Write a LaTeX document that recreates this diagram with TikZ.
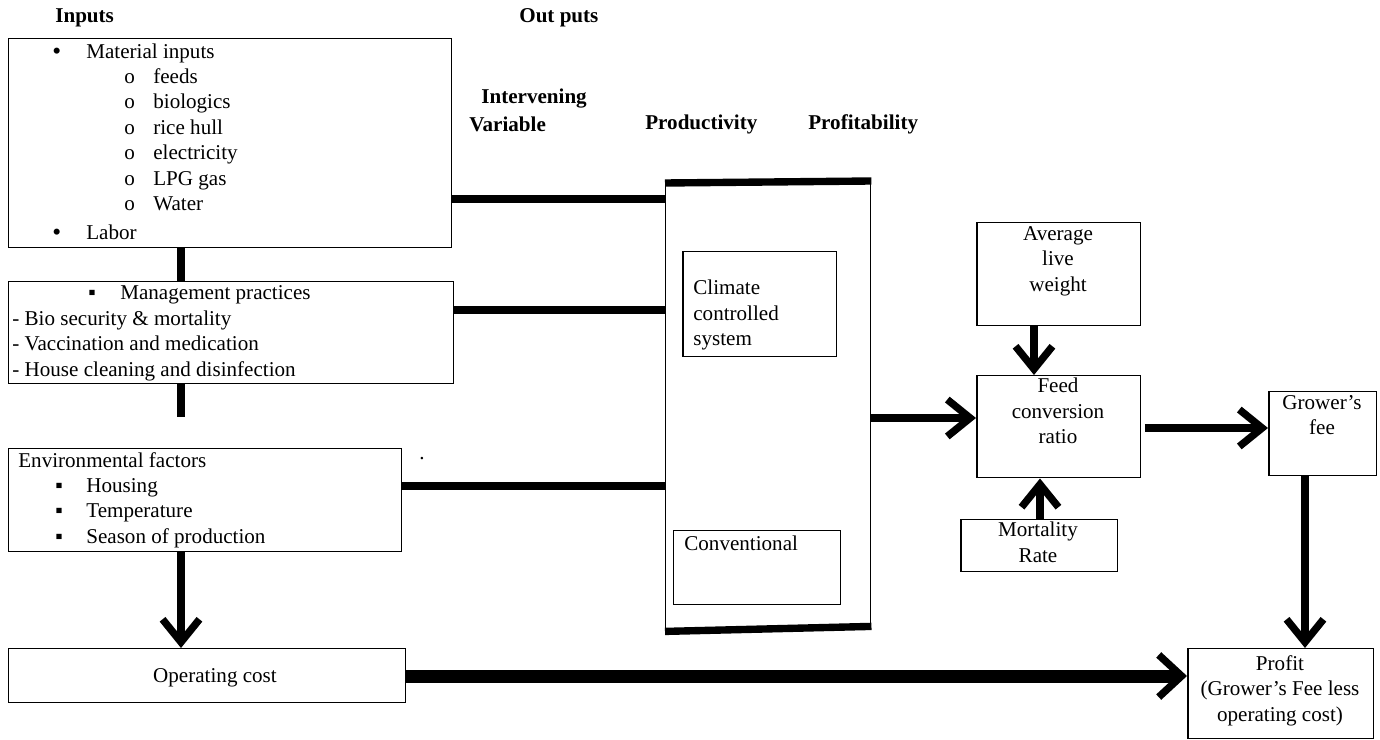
\documentclass[tikz,border=0pt]{standalone}
\usepackage{fontspec}
\setmainfont{Liberation Serif}
\usetikzlibrary{arrows.meta,calc}

\tikzset{
  box/.style={draw, line width=0.85pt, anchor=north west, inner sep=0pt},
  txt/.style={anchor=west, inner sep=0pt, text height=8.5pt, text depth=2.5pt,
    font=\fontsize{12}{14.5}\selectfont},
  mtxt/.style={anchor=north west, inner sep=0pt, align=left,
    font=\fontsize{12}{14.5}\selectfont},
  ctxt/.style={anchor=north, inner sep=0pt, align=center,
    font=\fontsize{12}{14.5}\selectfont},
  head/.style={anchor=west, inner sep=0pt, font=\fontsize{12}{14.5}\selectfont\bfseries},
  link/.style={line width=4.2pt},
  arr/.style={line width=4.2pt,
    -{Straight Barb[length=13pt,width=21pt,line width=4.2pt]}},
  bigarr/.style={line width=7.4pt,
    -{Straight Barb[length=13pt,width=24pt,line width=4.2pt]}}
}

\begin{document}
\begin{tikzpicture}[x={(0.02cm,0cm)}, y={(0cm,-0.02cm)}]
  \useasboundingbox (0,0) rectangle (1380,740);

  % headings
  \node[head] (hin) at (55,18) {Inputs};
  \node[head] (hout) at (519,18) {Out puts};
  \node[head] (hint) at (481,99) {Intervening};
  \node[head] (hvar) at (469,124) {Variable};
  \node[head] (hprod) at (645,124) {Productivity};
  \node[head] (hprof) at (808,124) {Profitability};

  % input side
  \node[box, minimum width=8.86cm, minimum height=4.18cm] (inputs) at (8,38) {};
  \node[txt] (b1) at (52,54) {\Large•};
  \node[txt] (mat) at (86,53) {Material inputs};
  \foreach \sub [count=\i from 0] in {feeds,biologics,rice hull,electricity,LPG gas,Water}{
    \node[txt] (o\i) at (124,{78+25.5*\i}) {o};
    \node[txt] (s\i) at (153,{78+25.5*\i}) {\sub};
  }
  \node[txt] (b2) at (52,235) {\Large•};
  \node[txt] (lab) at (86,234) {Labor};

  \node[box, minimum width=8.90cm, minimum height=2.04cm] (mgmt) at (8,281) {};
  \node[txt] (sq0) at (88,294) {▪};
  \node[txt] (mp) at (120,294) {Management practices};
  \node[txt] (m1) at (12,320) {- Bio security \& mortality};
  \node[txt] (m2) at (12,345) {- Vaccination and medication};
  \node[txt] (m3) at (12,371) {- House cleaning and disinfection};

  \node[box, minimum width=7.86cm, minimum height=2.06cm] (env) at (8,448) {};
  \node[txt] (ef) at (18,462) {Environmental factors};
  \foreach \sub [count=\i from 0] in {Housing,Temperature,Season of production}{
    \node[txt] (q\i) at (55,{487+25.5*\i}) {▪};
    \node[txt] (e\i) at (86,{487+25.5*\i}) {\sub};
  }
  \node[txt] (dot) at (419,454) {.};

  \node[box, minimum width=7.94cm, minimum height=1.08cm] (opcost) at (8,648) {};
  \node[ctxt] (optxt) at (215,668) {Operating cost};

  % productivity block
  \node[box, minimum width=4.10cm, minimum height=8.90cm] (prod) at (665,183) {};
  \draw[link] (prod.north west) -- ($(prod.north east)+(0,-2)$);
  \draw[link] ($(prod.south west)+(0,2)$) -- ($(prod.south east)+(0,-3)$);
  \node[box, minimum width=3.08cm, minimum height=2.10cm] (climate) at (682,251) {};
  \node[mtxt] (cltxt) at (693,280) {Climate\\controlled\\system};
  \node[box, minimum width=3.34cm, minimum height=1.48cm] (conv) at (673,530) {};
  \node[txt] (cvtxt) at (684,545) {Conventional};

  % profitability side
  \node[box, minimum width=3.28cm, minimum height=2.06cm] (avglw) at (976,222) {};
  \node[ctxt] (avtxt) at (1058,226) {Average\\live\\weight};
  \node[box, minimum width=3.28cm, minimum height=2.04cm] (fcr) at (976,375) {};
  \node[ctxt] (fctxt) at (1058,378) {Feed\\conversion\\ratio};
  \node[box, minimum width=3.14cm, minimum height=1.04cm] (mort) at (960,519) {};
  \node[ctxt] (mttxt) at (1038,522) {Mortality\\Rate};
  \node[box, minimum width=2.16cm, minimum height=1.68cm] (fee) at (1268,391) {};
  \node[ctxt] (fetxt) at (1322,395) {Grower's\\fee};
  \node[box, minimum width=3.72cm, minimum height=1.80cm] (profit) at (1187,648) {};
  \node[ctxt] (prtxt) at (1280,655) {Profit\\(Grower's Fee less\\operating cost)};

  % links
  \draw[link] (inputs.south -| 181,0) -- (mgmt.north -| 181,0);
  \coordinate (stub) at (181,417);
  \draw[link] (mgmt.south -| stub) -- (stub);
  \draw[link] (inputs.east |- 0,199) -- (prod.west |- 0,199);
  \draw[link] (mgmt.east |- 0,310) -- (prod.west |- 0,310);
  \draw[link] (env.east |- 0,486) -- (prod.west |- 0,486);
  \draw[arr] (env.south -| 181,0) -- (opcost.north -| 181,0);
  \draw[bigarr] (opcost.east |- 0,676) -- (profit.west |- 0,676);
  \draw[arr] (prod.east |- 0,418) -- (fcr.west |- 0,418);
  \draw[arr] (avglw.south -| 1034,0) -- (fcr.north -| 1034,0);
  \draw[arr] (mort.north -| 1040,0) -- (fcr.south -| 1040,0);
  \draw[arr] ([xshift=2pt]fcr.east |- 0,428) -- (fee.west |- 0,428);
  \draw[arr] (fee.south -| 1305,0) -- (profit.north -| 1305,0);
\end{tikzpicture}
\end{document}
